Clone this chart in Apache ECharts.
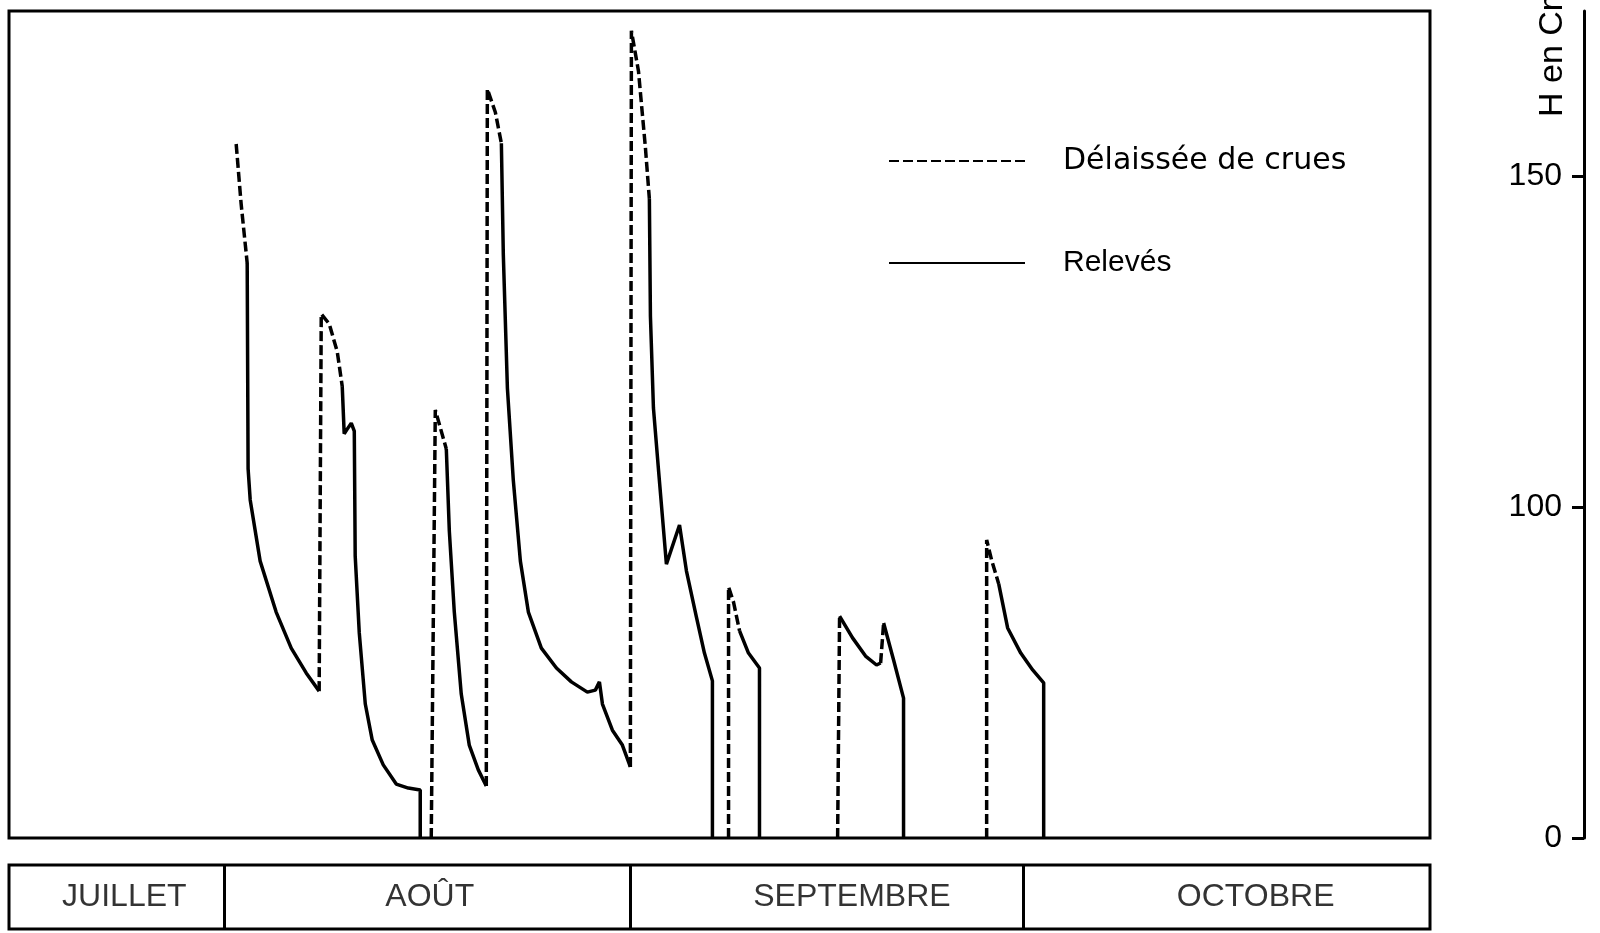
<!DOCTYPE html>
<html>
<head>
<meta charset="utf-8">
<script src="https://cdn.jsdelivr.net/npm/echarts@6/dist/echarts.min.js"></script>
<style>
  html, body { margin: 0; padding: 0; background: #fff; }
  #chart { width: 1600px; height: 933px; }
</style>
</head>
<body>
<div id="chart"></div>
<script>
// ---- data (x: days counted from 1 August, y: H in cm) ----
const dayMin = -16.4;
const dayMax = 92;
const monthNames = ['JUILLET', 'AOÛT', 'SEPTEMBRE', 'OCTOBRE'];
const monthStarts = [0, 31, 61];
const monthLabelDays = [-7.6, 15.7, 47.9, 78.7];
const yTickValues = [0, 100, 150];
const yMaxH = 175;

// "Délaissée de crues" (dashed) segments
const crueSegments = [
  [[0.93, 154.9], [1.31, 145.8], [1.77, 136.9]],
  [[7.26, 44.4], [7.42, 129.2], [8.03, 127.7], [8.64, 123.5], [9.02, 118.3]],
  [[15.81, 0], [16.12, 114.7], [16.96, 108.8]],
  [[20.01, 15.7], [20.09, 163.2], [20.70, 159.7], [21.16, 155.0]],
  [[31.00, 21.5], [31.08, 172.0], [31.62, 165.9], [32.15, 154.3], [32.45, 146.6]],
  [[38.49, 0], [38.49, 75.9], [38.87, 71.3], [39.33, 62.6]],
  [[46.81, 0], [46.96, 67.1]],
  [[50.09, 52.9], [50.32, 65.0]],
  [[58.18, 0], [58.18, 90.1], [58.56, 84.0], [59.10, 76.8]]
];

// "Relevés" (solid) segments
const releveSegments = [
  [[1.77, 136.9], [1.84, 105.8], [2.00, 101.1], [2.76, 83.7], [3.98, 68.3], [5.13, 57.4], [6.27, 49.9], [7.26, 44.4]],
  [[9.02, 118.3], [9.17, 111.1], [9.40, 111.8], [9.71, 112.7], [9.94, 111.5], [10.01, 85.2], [10.32, 62.0], [10.78, 40.5],
   [11.31, 29.6], [12.15, 22.1], [13.14, 16.3], [14.06, 15.1], [14.97, 14.5], [14.97, 0]],
  [[16.96, 108.8], [17.19, 92.8], [17.57, 68.3], [18.10, 43.5], [18.71, 28.1], [19.40, 20.6], [20.01, 15.7]],
  [[21.16, 155.0], [21.31, 138.1], [21.62, 118.0], [22.07, 104.1], [22.61, 83.7], [23.22, 68.3], [24.21, 57.4],
   [25.36, 51.4], [26.50, 47.2], [27.72, 44.1], [28.33, 44.7], [28.64, 47.2], [28.87, 40.5], [29.63, 32.6],
   [30.39, 28.1], [31.00, 21.5]],
  [[32.45, 146.6], [32.53, 128.9], [32.76, 115.0], [33.14, 105.8], [33.75, 82.8], [34.75, 94.6], [35.28, 80.7],
   [36.04, 66.8], [36.65, 55.9], [37.26, 47.5], [37.26, 0]],
  [[39.33, 62.6], [40.01, 55.9], [40.85, 51.4], [40.85, 0]],
  [[46.96, 67.1], [47.95, 60.5], [48.94, 55.0], [49.78, 52.3], [50.09, 52.9]],
  [[50.32, 65.0], [51.08, 53.8], [51.84, 42.3], [51.84, 0]],
  [[59.10, 76.8], [59.78, 63.5], [60.78, 55.9], [61.69, 50.8], [62.53, 46.9], [62.53, 0]]
];

// ---- axis mapping: the original axis is stretched above 100 cm ----
function toAxis(h) { return h <= 100 ? h : 100 + (h - 100) * 2; }
const yTickPos = yTickValues.map(toAxis);

function buildLine(segs) {
  const out = [];
  segs.forEach((s, i) => {
    if (i > 0) out.push([s[0][0], '-']);
    s.forEach(p => out.push([p[0], toAxis(p[1])]));
  });
  return out;
}

const INK = '#000';
const FONT = '"Liberation Sans", Arial, Helvetica, sans-serif';

const chart = echarts.init(document.getElementById('chart'), null, { renderer: 'canvas' });
chart.setOption({
  animation: false,
  backgroundColor: '#fff',
  grid: [
    { left: 9, top: 11, width: 1421, height: 827, show: true, borderColor: INK, borderWidth: 3, backgroundColor: 'transparent' },
    { left: 9, top: 865, width: 1421, height: 64, show: true, borderColor: INK, borderWidth: 3, backgroundColor: 'transparent' }
  ],
  xAxis: [
    { type: 'value', gridIndex: 0, min: dayMin, max: dayMax, show: false, axisLine: { onZero: false } },
    { type: 'value', gridIndex: 1, min: dayMin, max: dayMax, show: false, axisLine: { onZero: false } }
  ],
  yAxis: [
    {
      type: 'value', gridIndex: 0, position: 'right', offset: 154,
      min: 0, max: toAxis(yMaxH),
      axisLine: { show: true, onZero: false, lineStyle: { color: INK, width: 3 } },
      axisTick: { show: true, inside: true, length: 12, customValues: yTickPos, lineStyle: { color: INK, width: 3 } },
      axisLabel: {
        show: true, inside: true, margin: 22, customValues: yTickPos,
        formatter: v => { const i = yTickPos.indexOf(v); return i >= 0 ? String(yTickValues[i]) : ''; },
        fontSize: 32, color: INK, fontFamily: FONT
      },
      splitLine: { show: false }
    },
    { type: 'value', gridIndex: 1, min: 0, max: 1, show: false, axisLine: { onZero: false } }
  ],
  legend: {
    orient: 'vertical', left: 883, top: 138,
    itemWidth: 136, itemHeight: 14, itemGap: 66,
    itemStyle: { opacity: 0 },
    textStyle: { fontSize: 30, color: INK, fontFamily: FONT, lineHeight: 36, padding: [0, 0, 0, 33] },
    data: [
      { name: 'Délaissée de crues', textStyle: { fontFamily: '"DejaVu Sans", sans-serif', fontSize: 30 } },
      { name: 'Relevés' }
    ]
  },
  graphic: [
    {
      type: 'text', x: 1570, y: 117, rotation: Math.PI / 2,
      style: { text: 'H en Cm', fontSize: 34, fontFamily: FONT, fill: INK, align: 'left', verticalAlign: 'bottom' }
    }
  ],
  series: [
    {
      name: 'Délaissée de crues', type: 'line', xAxisIndex: 0, yAxisIndex: 0,
      data: buildLine(crueSegments), symbol: 'none', connectNulls: false,
      lineStyle: { color: INK, width: 3.5, type: [10, 4] },
      itemStyle: { color: INK }
    },
    {
      name: 'Relevés', type: 'line', xAxisIndex: 0, yAxisIndex: 0,
      data: buildLine(releveSegments), symbol: 'none', connectNulls: false,
      lineStyle: { color: INK, width: 3.5, type: 'solid' },
      itemStyle: { color: INK }
    },
    {
      name: 'mois', type: 'scatter', xAxisIndex: 1, yAxisIndex: 1,
      symbolSize: 0, silent: true,
      data: monthNames.map((m, i) => ({ name: m, value: [monthLabelDays[i], 0.5] })),
      label: {
        show: true, position: 'inside', formatter: p => p.name,
        fontSize: 32, color: INK, fontFamily: FONT
      },
      markLine: {
        silent: true, symbol: 'none', label: { show: false },
        lineStyle: { color: INK, width: 3, type: 'solid' },
        data: monthStarts.map(d => ({ xAxis: d }))
      }
    }
  ]
});
</script>
</body>
</html>
